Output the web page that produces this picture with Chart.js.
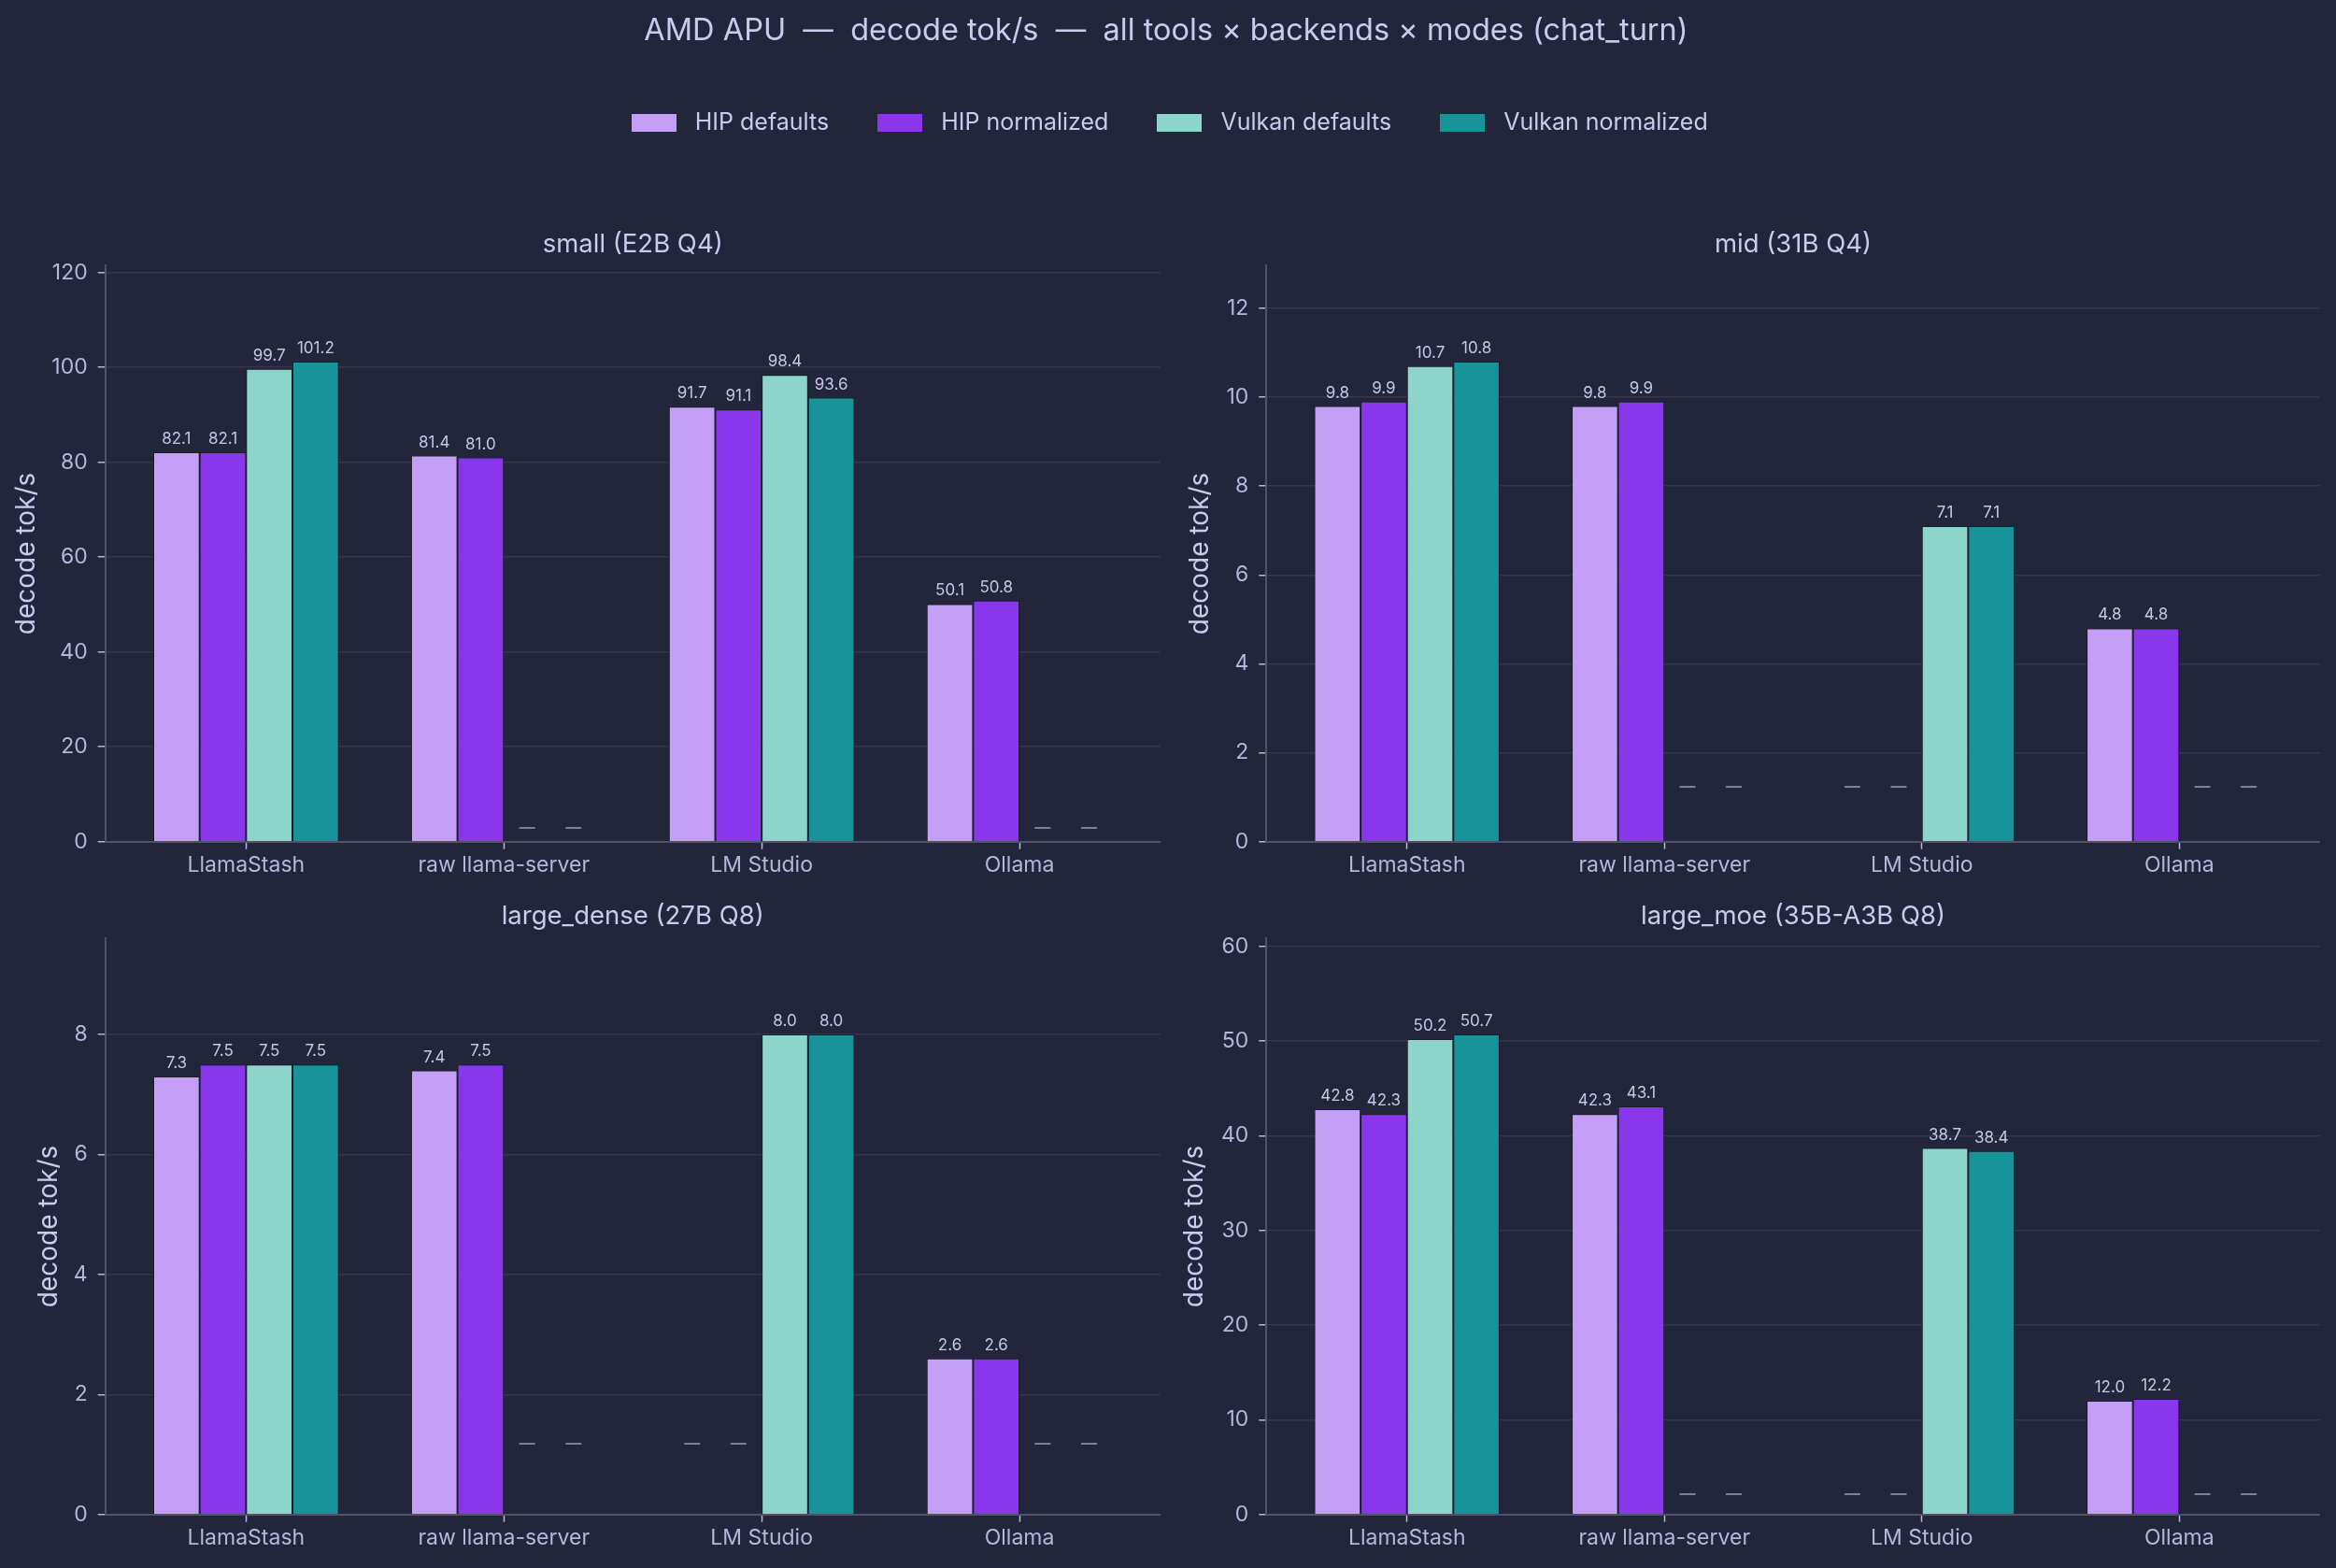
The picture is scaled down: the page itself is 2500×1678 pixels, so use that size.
<!DOCTYPE html>
<html>
<head>
<meta charset="utf-8">
<script src="https://cdn.jsdelivr.net/npm/chart.js@4.4.1/dist/chart.umd.min.js"></script>
<style>
  html, body { margin: 0; padding: 0; background: #23263a; width: 2500px; height: 1678px; overflow: hidden; }
  canvas { position: absolute; }
</style>
</head>
<body>
<canvas id="hdr" width="2500" height="200" style="left:0px;top:0px"></canvas>
<canvas id="p0" width="1250" height="740" style="left:0px;top:230px"></canvas>
<canvas id="p1" width="1250" height="740" style="left:1250px;top:230px"></canvas>
<canvas id="p2" width="1250" height="728" style="left:0px;top:950px"></canvas>
<canvas id="p3" width="1250" height="728" style="left:1250px;top:950px"></canvas>
<script>
// ---------------- DATA ----------------
const categories = ['LlamaStash', 'raw llama-server', 'LM Studio', 'Ollama'];
const seriesNames = ['HIP defaults', 'HIP normalized', 'Vulkan defaults', 'Vulkan normalized'];
const panelTitles = ['small (E2B Q4)', 'mid (31B Q4)', 'large_dense (27B Q8)', 'large_moe (35B-A3B Q8)'];
const figureTitle = 'AMD APU  \u2014  decode tok/s  \u2014  all tools \u00d7 backends \u00d7 modes (chat_turn)';
const yAxisLabel = 'decode tok/s';

const small_hipDefaults    = [82.1, 81.4, 91.7, 50.1];
const small_hipNormalized  = [82.1, 81.0, 91.1, 50.8];
const small_vkDefaults     = [99.7, null, 98.4, null];
const small_vkNormalized   = [101.2, null, 93.6, null];

const mid_hipDefaults      = [9.8, 9.8, null, 4.8];
const mid_hipNormalized    = [9.9, 9.9, null, 4.8];
const mid_vkDefaults       = [10.7, null, 7.1, null];
const mid_vkNormalized     = [10.8, null, 7.1, null];

const dense_hipDefaults    = [7.3, 7.4, null, 2.6];
const dense_hipNormalized  = [7.5, 7.5, null, 2.6];
const dense_vkDefaults     = [7.5, null, 8.0, null];
const dense_vkNormalized   = [7.5, null, 8.0, null];

const moe_hipDefaults      = [42.8, 42.3, null, 12.0];
const moe_hipNormalized    = [42.3, 43.1, null, 12.2];
const moe_vkDefaults       = [50.2, null, 38.7, null];
const moe_vkNormalized     = [50.7, null, 38.4, null];

const yMax = [121.44, 12.96, 9.6, 60.84];
const yStep = [20, 2, 2, 10];
const missingMarkY = [2.9, 1.24, 1.18, 2.1];

const panelSeries = [
  [small_hipDefaults, small_hipNormalized, small_vkDefaults, small_vkNormalized],
  [mid_hipDefaults, mid_hipNormalized, mid_vkDefaults, mid_vkNormalized],
  [dense_hipDefaults, dense_hipNormalized, dense_vkDefaults, dense_vkNormalized],
  [moe_hipDefaults, moe_hipNormalized, moe_vkDefaults, moe_vkNormalized]
];

// ---------------- STYLE ----------------
const seriesColors = ['#c59ff5', '#8936ec', '#8dd5ca', '#179399'];
const TEXT = '#c7ccef';
const TICK_TEXT = '#b3b8da';
const GRID = '#33364d';
const SPINE = '#4f526b';
const TICKMARK = '#b3b8da';
const FONT = 'Inter';

Chart.defaults.font.family = FONT;
Chart.defaults.color = TICK_TEXT;
Chart.defaults.animation = false;

const layoutCfg = [
  { yW: 112.7, padR: 8.3,  xH: 69.3, yTitlePad: 12.2, tTop: 15.5, tBot: 5.8 },
  { yW: 105.3, padR: 17.3, xH: 69.3, yTitlePad: 18.2, tTop: 15.5, tBot: 5.8 },
  { yW: 112.7, padR: 8.3,  xH: 57.3, yTitlePad: 36.2, tTop: 14.5, tBot: 6.8 },
  { yW: 105.3, padR: 17.3, xH: 57.3, yTitlePad: 12.2, tTop: 14.5, tBot: 6.8 }
];

// legend swatches (wide rectangles)
const swatches = seriesColors.map(c => {
  const cv = document.createElement('canvas');
  cv.width = 48; cv.height = 19;
  const g = cv.getContext('2d');
  g.fillStyle = c;
  g.fillRect(0, 0, 48, 19);
  return cv;
});

const barAnnotations = {
  id: 'barAnnotations',
  afterDatasetsDraw(chart, args, opts) {
    const ctx = chart.ctx;
    const yScale = chart.scales.y;
    ctx.save();
    chart.data.datasets.forEach((ds, d) => {
      const meta = chart.getDatasetMeta(d);
      meta.data.forEach((el, i) => {
        const v = ds.data[i].y;
        if (v === null || v === undefined) {
          const y = Math.round(yScale.getPixelForValue(opts.missingY));
          ctx.strokeStyle = '#7b809e';
          ctx.lineWidth = 2;
          ctx.beginPath();
          ctx.moveTo(el.x - 8.5, y);
          ctx.lineTo(el.x + 8.5, y);
          ctx.stroke();
        } else {
          ctx.fillStyle = '#c3c7e6';
          ctx.font = '17px ' + FONT;
          ctx.textAlign = 'center';
          ctx.textBaseline = 'alphabetic';
          ctx.fillText(v.toFixed(1), el.x, el.y - 9);
        }
      });
    });
    ctx.restore();
  }
};

// ---------------- HEADER (title + legend) ----------------
new Chart(document.getElementById('hdr'), {
  type: 'bar',
  data: {
    labels: [],
    datasets: seriesNames.map((n, k) => ({ label: n, data: [], backgroundColor: seriesColors[k], borderWidth: 0 }))
  },
  options: {
    responsive: false,
    animation: false,
    events: [],
    layout: { padding: { left: 0, right: 4, top: 0, bottom: 0 } },
    scales: { x: { display: false }, y: { display: false } },
    plugins: {
      tooltip: { enabled: false },
      title: {
        display: true,
        text: figureTitle,
        color: TEXT,
        font: { size: 32.5, weight: 'normal', family: FONT },
        padding: { top: 13.5, bottom: 22 }
      },
      legend: {
        display: true,
        position: 'top',
        labels: {
          color: TEXT,
          font: { size: 25, family: FONT },
          usePointStyle: true,
          pointStyleWidth: 63,
          boxHeight: 19,
          padding: 44.5,
          generateLabels: chart => Chart.defaults.plugins.legend.labels.generateLabels(chart)
            .map((it, k) => Object.assign({}, it, { pointStyle: swatches[k], lineWidth: 0 }))
        }
      }
    }
  }
});

// ---------------- PANELS ----------------
panelSeries.forEach((series, p) => {
  const L = layoutCfg[p];
  new Chart(document.getElementById('p' + p), {
    type: 'bar',
    data: {
      datasets: series.map((vals, k) => ({
        label: seriesNames[k],
        data: vals.map((v, i) => ({ x: i, y: v })),
        backgroundColor: seriesColors[k],
        borderColor: '#1b1d2c',
        borderWidth: 1,
        categoryPercentage: 0.72,
        barPercentage: 1.0
      }))
    },
    options: {
      responsive: false,
      animation: false,
      events: [],
      layout: { padding: { left: 0, right: L.padR, top: 0, bottom: 0 } },
      scales: {
        x: {
          type: 'linear',
          min: -0.546,
          max: 3.546,
          offset: false,
          afterFit: s => { s.height = L.xH; },
          border: { display: true, color: SPINE, width: 2 },
          grid: { display: true, offset: false, drawOnChartArea: false, drawTicks: true, tickLength: 8, tickColor: TICKMARK, tickWidth: 1.5 },
          ticks: {
            stepSize: 1,
            includeBounds: false,
            autoSkip: false,
            maxRotation: 0,
            padding: 3.6,
            color: TICK_TEXT,
            font: { size: 23, family: FONT },
            callback: v => (Number.isInteger(v) && categories[v] !== undefined) ? categories[v] : ''
          }
        },
        y: {
          type: 'linear',
          min: 0,
          max: yMax[p],
          afterFit: s => { s.width = L.yW; },
          border: { display: true, color: SPINE, width: 2 },
          grid: { color: GRID, lineWidth: 1.5, drawTicks: true, tickLength: 8, tickColor: TICKMARK, tickWidth: 1.5 },
          ticks: {
            stepSize: yStep[p],
            includeBounds: false,
            padding: 11,
            color: TICK_TEXT,
            font: { size: 23, family: FONT }
          },
          title: {
            display: true,
            text: yAxisLabel,
            color: TEXT,
            font: { size: 28, family: FONT },
            padding: { top: L.yTitlePad, bottom: 0 }
          }
        }
      },
      plugins: {
        legend: { display: false },
        tooltip: { enabled: false },
        title: {
          display: true,
          fullSize: false,
          text: panelTitles[p],
          color: TEXT,
          font: { size: 27.5, weight: 'normal', family: FONT },
          padding: { top: L.tTop, bottom: L.tBot }
        },
        barAnnotations: { missingY: missingMarkY[p] }
      }
    },
    plugins: [barAnnotations]
  });
});
</script>
</body>
</html>
